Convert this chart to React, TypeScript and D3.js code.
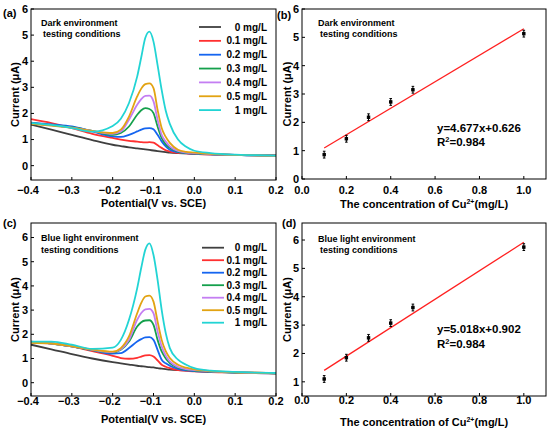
import React from "react";
import * as d3 from "d3";

// ---------- DATA ----------
const potentials = [-0.4, -0.35, -0.3, -0.25, -0.2, -0.18, -0.16, -0.14, -0.13, -0.12, -0.11, -0.1, -0.09, -0.08, -0.07, -0.06, -0.04, -0.02, 0, 0.04, 0.1, 0.15, 0.2];
const seriesLabels = ["0 mg/L", "0.1 mg/L", "0.2 mg/L", "0.3 mg/L", "0.4 mg/L", "0.5 mg/L", "1 mg/L"];
const seriesColors = ["#3f3f3f", "#ff3030", "#1565f0", "#14a04c", "#c47ef2", "#e2a312", "#22d4d4"];

// Panel (a) dark environment
const dark0 = [1.57, 1.38, 1.18, 0.98, 0.8, 0.75, 0.7, 0.66, 0.64, 0.62, 0.6, 0.58, 0.56, 0.54, 0.52, 0.5, 0.48, 0.47, 0.46, 0.44, 0.41, 0.39, 0.38];
const dark01 = [1.78, 1.63, 1.44, 1.22, 1.06, 1.0, 0.95, 0.92, 0.9, 0.89, 0.9, 0.88, 0.78, 0.68, 0.59, 0.54, 0.49, 0.47, 0.45, 0.42, 0.4, 0.4, 0.4];
const dark02 = [1.65, 1.58, 1.5, 1.31, 1.12, 1.1, 1.18, 1.31, 1.38, 1.43, 1.44, 1.39, 1.18, 0.93, 0.74, 0.61, 0.52, 0.48, 0.46, 0.43, 0.41, 0.39, 0.39];
const dark03 = [1.63, 1.55, 1.47, 1.33, 1.18, 1.25, 1.5, 1.95, 2.12, 2.2, 2.17, 2.01, 1.5, 1.06, 0.82, 0.68, 0.54, 0.49, 0.47, 0.44, 0.41, 0.39, 0.38];
const dark04 = [1.62, 1.54, 1.46, 1.33, 1.22, 1.31, 1.76, 2.33, 2.55, 2.67, 2.68, 2.46, 1.76, 1.18, 0.92, 0.74, 0.56, 0.5, 0.48, 0.44, 0.41, 0.39, 0.38];
const dark05 = [1.6, 1.53, 1.45, 1.33, 1.25, 1.38, 1.88, 2.65, 2.95, 3.12, 3.15, 2.97, 2.14, 1.44, 1.1, 0.87, 0.61, 0.53, 0.5, 0.45, 0.41, 0.39, 0.38];
const dark1 = [1.63, 1.56, 1.44, 1.3, 1.52, 1.8, 2.4, 3.41, 4.15, 4.9, 5.13, 4.75, 3.85, 2.9, 2.1, 1.6, 1.0, 0.72, 0.57, 0.48, 0.42, 0.4, 0.38];

// Panel (c) blue light environment
const blue0 = [1.57, 1.38, 1.18, 1.0, 0.85, 0.8, 0.75, 0.7, 0.68, 0.66, 0.64, 0.63, 0.6, 0.58, 0.56, 0.54, 0.52, 0.51, 0.5, 0.46, 0.43, 0.4, 0.38];
const blue01 = [1.7, 1.62, 1.5, 1.3, 1.11, 1.02, 0.99, 1.03, 1.08, 1.13, 1.14, 1.08, 0.92, 0.74, 0.66, 0.6, 0.52, 0.49, 0.47, 0.44, 0.42, 0.41, 0.4];
const blue02 = [1.68, 1.62, 1.5, 1.35, 1.2, 1.22, 1.43, 1.7, 1.8, 1.87, 1.88, 1.77, 1.36, 0.95, 0.8, 0.7, 0.57, 0.51, 0.48, 0.45, 0.42, 0.4, 0.39];
const blue03 = [1.67, 1.62, 1.5, 1.35, 1.25, 1.36, 1.7, 2.32, 2.5, 2.57, 2.58, 2.39, 1.77, 1.29, 1.0, 0.81, 0.62, 0.54, 0.5, 0.46, 0.42, 0.4, 0.39];
const blue04 = [1.66, 1.62, 1.5, 1.36, 1.26, 1.38, 1.77, 2.6, 2.88, 3.03, 3.05, 2.87, 2.12, 1.5, 1.12, 0.88, 0.65, 0.56, 0.52, 0.47, 0.43, 0.4, 0.39];
const blue05 = [1.65, 1.62, 1.5, 1.37, 1.28, 1.43, 1.91, 2.87, 3.3, 3.56, 3.6, 3.35, 2.53, 1.77, 1.3, 1.02, 0.74, 0.62, 0.55, 0.48, 0.43, 0.41, 0.39];
const blue1 = [1.7, 1.7, 1.57, 1.4, 1.45, 1.77, 2.6, 3.9, 4.75, 5.5, 5.76, 5.28, 4.25, 3.01, 2.05, 1.43, 0.95, 0.74, 0.6, 0.5, 0.45, 0.42, 0.4];

const darkSeries = [dark0, dark01, dark02, dark03, dark04, dark05, dark1];
const blueSeries = [blue0, blue01, blue02, blue03, blue04, blue05, blue1];

// Calibration (b) and (d)
const concentrations = [0.1, 0.2, 0.3, 0.4, 0.5, 1.0];
const darkPeak = [0.86, 1.42, 2.18, 2.72, 3.15, 5.13];
const darkErr = [0.12, 0.12, 0.12, 0.12, 0.12, 0.12];
const bluePeak = [1.1, 1.85, 2.55, 3.07, 3.62, 5.75];
const blueErr = [0.12, 0.12, 0.12, 0.12, 0.12, 0.12];
const darkFit = { slope: 4.677, intercept: 0.626 };
const blueFit = { slope: 5.018, intercept: 0.902 };
const fitRange = [0.1, 1.0];

const potentialTicks = [-0.4, -0.3, -0.2, -0.1, 0, 0.1, 0.2];
const concTicks = [0, 0.2, 0.4, 0.6, 0.8, 1.0];

const FONT = "'Liberation Sans', Arial, Helvetica, sans-serif";

const fmtPot = (v: number) => {
  const s = Math.abs(v).toFixed(1);
  return v < -1e-9 ? "\u2212" + s : s;
};

type CVProps = {
  top: number;
  yDomain: [number, number];
  yTicks: number[];
  series: number[][];
  tag: string;
  note: [string, string];
  noteX: [number, number];
  noteY: [number, number];
  legendY0: number;
  legendStep: number;
  legendX: number;
  tickBase: number;
  labelBase: number;
};

function CVPanel(p: CVProps) {
  const left = 31, right = 276, bottom = p.top + 171 + (p.top > 100 ? 2 : 0);
  const x = d3.scaleLinear().domain([-0.4, 0.2]).range([left, right]);
  const y = d3.scaleLinear().domain(p.yDomain).range([bottom, p.top]);
  const line = d3
    .line<number>()
    .x((_, i) => x(potentials[i]))
    .y((d) => y(d))
    .curve(d3.curveMonotoneX);
  return (
    <g fontFamily={FONT} fontWeight="bold">
      <defs>
        <clipPath id={"clip" + p.tag}>
          <rect x={left} y={p.top} width={right - left} height={bottom - p.top} />
        </clipPath>
      </defs>
      <g clipPath={`url(#clip${p.tag})`}>
        {p.series.map((s, i) => (
          <path key={i} d={line(s) || ""} fill="none" stroke={seriesColors[i]} strokeWidth={1.8} />
        ))}
      </g>
      <rect x={left} y={p.top} width={right - left} height={bottom - p.top} fill="none" stroke="#000" strokeWidth={1} />
      {potentialTicks.map((t) => (
        <g key={t}>
          <line x1={x(t)} x2={x(t)} y1={bottom} y2={bottom - 3} stroke="#000" />
          <text x={x(t) - (t < -1e-9 ? 3 : 0)} y={p.tickBase} fontSize={11} textAnchor="middle">
            {fmtPot(t)}
          </text>
        </g>
      ))}
      {p.yTicks.map((t) => (
        <g key={t}>
          <line x1={left} x2={left + 3} y1={y(t)} y2={y(t)} stroke="#000" />
          <text x={left - 3} y={y(t)} dy="0.36em" fontSize={11} textAnchor="end">
            {t}
          </text>
        </g>
      ))}
      <text x={(left + right) / 2} y={p.labelBase} fontSize={11} textAnchor="middle">
        Potential(V vs. SCE)
      </text>
      <text transform={`translate(15,${(p.top + bottom) / 2}) rotate(-90)`} fontSize={11} textAnchor="middle" dy="0.36em">
        Current (μA)
      </text>
      <text x={p.noteX[0]} y={p.noteY[0]} fontSize={9}>{p.note[0]}</text>
      <text x={p.noteX[1]} y={p.noteY[1]} fontSize={9}>{p.note[1]}</text>
      {seriesLabels.map((lab, i) => {
        const yy = p.legendY0 + i * p.legendStep;
        return (
          <g key={lab}>
            <line x1={p.legendX} x2={p.legendX + 22} y1={yy} y2={yy} stroke={seriesColors[i]} strokeWidth={1.8} />
            <text x={267} y={yy} dy="0.36em" fontSize={10} textAnchor="end">{lab}</text>
          </g>
        );
      })}
    </g>
  );
}

type CalProps = {
  top: number;
  yDomain: [number, number];
  yTicks: number[];
  values: number[];
  errs: number[];
  fit: { slope: number; intercept: number };
  note: [string, string];
  noteY: [number, number];
  eqY: [number, number];
  tickBase: number;
  labelBase: number;
};

function CalPanel(p: CalProps) {
  const left = 302, right = 546, bottom = p.top + 170 + (p.top > 100 ? 3 : 0);
  const x = d3.scaleLinear().domain([0, 1.1]).range([left, right]);
  const y = d3.scaleLinear().domain(p.yDomain).range([bottom, p.top]);
  const fitLine = d3
    .line<number>()
    .x((d) => x(d))
    .y((d) => y(p.fit.slope * d + p.fit.intercept));
  const r2 = "0.984";
  const eq = `y=${p.fit.slope.toFixed(3)}x+${p.fit.intercept.toFixed(3)}`;
  return (
    <g fontFamily={FONT} fontWeight="bold">
      <rect x={left} y={p.top} width={right - left} height={bottom - p.top} fill="none" stroke="#000" strokeWidth={1} />
      <path d={fitLine(fitRange) || ""} stroke="#ff2020" strokeWidth={1.3} fill="none" />
      {concentrations.map((c, i) => {
        const cx = x(c), cy = y(p.values[i]);
        const y1 = y(p.values[i] - p.errs[i]), y2 = y(p.values[i] + p.errs[i]);
        return (
          <g key={c} stroke="#000" strokeWidth={1}>
            <line x1={cx} x2={cx} y1={y1} y2={y2} />
            <line x1={cx - 1.3} x2={cx + 1.3} y1={y1} y2={y1} />
            <line x1={cx - 1.3} x2={cx + 1.3} y1={y2} y2={y2} />
            <rect x={cx - 1.2} y={cy - 1.2} width={2.4} height={2.4} fill="#000" />
          </g>
        );
      })}
      {concTicks.map((t) => (
        <g key={t}>
          <line x1={x(t)} x2={x(t)} y1={bottom} y2={bottom - 3} stroke="#000" />
          <text x={x(t)} y={p.tickBase} fontSize={11} textAnchor="middle">{t.toFixed(1)}</text>
        </g>
      ))}
      {p.yTicks.map((t) => (
        <g key={t}>
          <line x1={left} x2={left + 3} y1={y(t)} y2={y(t)} stroke="#000" />
          <text x={left - 3} y={y(t)} dy="0.36em" fontSize={11} textAnchor="end">{t}</text>
        </g>
      ))}
      <text x={(left + right) / 2} y={p.labelBase} fontSize={11} textAnchor="middle">
        The concentration of Cu
        <tspan fontSize={7} dy={-4.5}>2+</tspan>
        <tspan dy={4.5}>(mg/L)</tspan>
      </text>
      <text transform={`translate(287,${(p.top + bottom) / 2}) rotate(-90)`} fontSize={11} textAnchor="middle" dy="0.36em">
        Current (μA)
      </text>
      <text x={318} y={p.noteY[0]} fontSize={9}>{p.note[0]}</text>
      <text x={320} y={p.noteY[1]} fontSize={9}>{p.note[1]}</text>
      <text x={437} y={p.eqY[0]} fontSize={11.5}>{eq}</text>
      <text x={437} y={p.eqY[1]} fontSize={11.5}>
        R<tspan fontSize={7.5} dy={-4.5}>2</tspan>
        <tspan dy={4.5}>={r2}</tspan>
      </text>
    </g>
  );
}

export default function App() {
  return (
    <svg width={550} height={432} style={{ position: "absolute", left: 0, top: 0, background: "#fff" }}>
      <rect width={550} height={432} fill="#fff" />
      <CVPanel
        top={9}
        yDomain={[-0.55, 6]}
        yTicks={[0, 1, 2, 3, 4, 5, 6]}
        series={darkSeries}
        tag="a"
        note={["Dark environment", "testing conditions"]}
        noteX={[41, 43]}
        noteY={[26, 36.5]}
        legendY0={27}
        legendStep={13.85}
        legendX={199}
        tickBase={194}
        labelBase={207}
      />
      <CVPanel
        top={223}
        yDomain={[-0.55, 6.6]}
        yTicks={[0, 1, 2, 3, 4, 5, 6]}
        series={blueSeries}
        tag="c"
        note={["Blue light environment", "testing conditions"]}
        noteX={[41, 41]}
        noteY={[241, 252.5]}
        legendY0={247.7}
        legendStep={12.5}
        legendX={202}
        tickBase={405}
        labelBase={423}
      />
      <CalPanel
        top={9}
        yDomain={[0, 6]}
        yTicks={[0, 1, 2, 3, 4, 5, 6]}
        values={darkPeak}
        errs={darkErr}
        fit={darkFit}
        note={["Dark environment", "testing conditions"]}
        noteY={[26, 36.5]}
        eqY={[132, 146]}
        tickBase={194}
        labelBase={208}
      />
      <CalPanel
        top={223}
        yDomain={[0.5, 6.6]}
        yTicks={[1, 2, 3, 4, 5, 6]}
        values={bluePeak}
        errs={blueErr}
        fit={blueFit}
        note={["Blue light environment", "testing conditions"]}
        noteY={[242, 252.5]}
        eqY={[333, 348]}
        tickBase={404}
        labelBase={426}
      />
      <g fontFamily={FONT} fontWeight="bold" fontSize={11}>
        <text x={3} y={17}>(a)</text>
        <text x={277} y={19}>(b)</text>
        <text x={3} y={227}>(c)</text>
        <text x={282} y={227}>(d)</text>
      </g>
    </svg>
  );
}
